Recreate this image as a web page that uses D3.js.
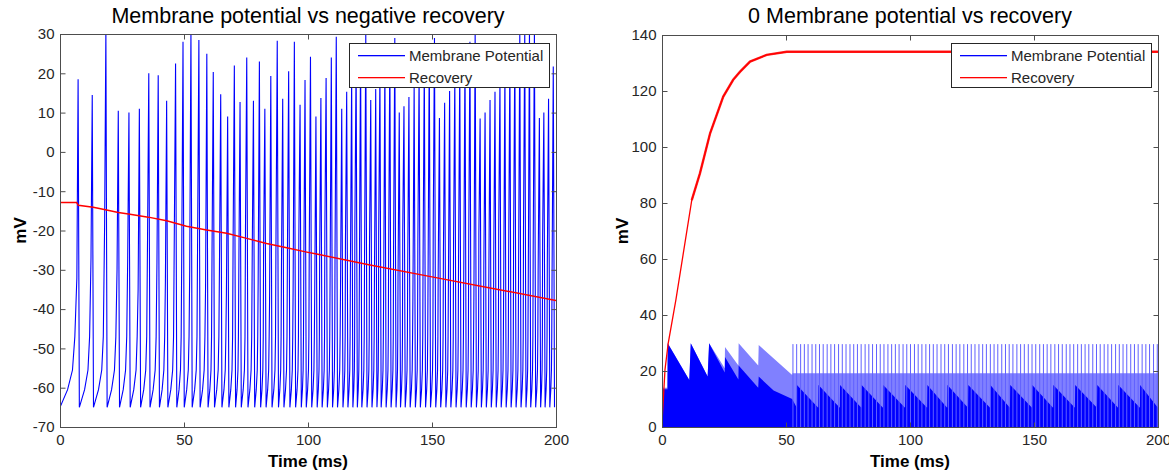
<!DOCTYPE html>
<html>
<head>
<meta charset="utf-8">
<script src="https://cdn.jsdelivr.net/npm/d3@7"></script>
<style>
  body { margin: 0; background: #fff; }
  text { font-family: "Liberation Sans", Arial, sans-serif; }
</style>
</head>
<body>
<svg id="chart" width="1169" height="472"></svg>
<script>
// ---- left panel: spiking membrane potential and negative recovery ----
var leftSpikeT = [7.3, 13.0, 18.5, 23.5, 27.8, 32.0, 35.8, 39.6, 43.0, 46.6, 49.6, 52.8, 56.0, 59.2, 61.8,
  64.8, 67.6, 70.3, 72.6, 75.3, 78.0, 80.4, 82.6, 85.0, 87.6, 89.8, 92.2, 94.5, 96.8, 98.8, 101.0, 103.2,
  105.2, 107.3, 109.4, 111.4, 113.6, 115.6, 117.6, 119.4, 121.2, 123.3, 125.3, 127.3, 129.0, 131.0, 133.0,
  135.0, 136.8, 138.7, 140.7, 142.8, 144.8, 146.9, 148.9, 151.0, 153.0, 155.1, 157.1, 159.2, 161.2, 163.3,
  165.3, 167.4, 169.4, 171.4, 173.4, 175.4, 177.4, 179.4, 181.4, 183.4, 185.4, 187.4, 189.3, 191.3, 193.3,
  195.1, 197.0, 198.9];
var leftSpikePeak = [18.5, 14.5, 31, 10.5, 10, 11, 20, 19.5, 13, 22.5, 28, 31, 28.5, 25, 20.3,
  14.7, 9, 22, 12.7, 24, 13, 23, 11, 19.3, 28.3, 13.5, 20.5, 28, 12, 18.3, 24.2, 9,
  13.7, 18.8, 24, 29.3, 11, 15.3, 19, 23, 27, 30, 13.2, 16, 20, 23, 26,
  29, 10, 11.6, 14, 17, 20, 23, 26, 29, 8.6, 12.5, 15.5, 19, 22, 25,
  28, 31, 8.5, 10, 13.2, 15.3, 18, 21, 24, 27, 30, 31, 31, 31, 8.6,
  10, 13.5, 21.7];
// last sampled voltage before each upstroke
var leftPreV = [-32, -27, -18, -30, -27, -35, -22, -28, -33, -20, -25, -30, -21, -34, -26,
  -29, -36, -23, -31, -19, -27, -33, -24, -38, -21, -29, -26, -35, -22, -30, -25, -37,
  -28, -20, -33, -26, -36, -23, -30, -19, -34, -27, -24, -31, -21, -35, -28,
  -25, -32, -20, -29, -37, -23, -27, -33, -19, -30, -26, -35, -22, -28, -31,
  -24, -36, -21, -29, -33, -26, -20, -34, -27, -23, -31, -19, -35, -25, -30,
  -22, -28, -33];
var isiFrac = [0, 0.45, 0.74, 0.88];
var isiV = [-65, -60.5, -55.5, -47];
var leftRecT = [0, 6.7, 7.4, 13.4, 18.8, 23.5, 27.6, 35.6, 43, 51, 59.1, 67.2, 75.3, 83.3, 91.4, 99.5, 103.5, 125, 150, 175, 200];
var leftRecV = [-12.9, -12.9, -13.6, -14.1, -14.8, -15.4, -15.8, -16.6, -17.5, -18.9, -19.9, -20.7, -22, -23.3, -24.4, -25.5, -26, -28.8, -31.8, -34.8, -37.8];

// ---- right panel ----
var rightRecT = [0, 0.1, 1.2, 2.5, 5.6, 12, 15.3, 19.4, 24.7, 28.7, 31.5, 35.5, 42.2, 50.3, 200];
var rightRecV = [0, 3.1, 20.4, 29.9, 45.4, 81, 90.6, 104.9, 118, 124, 126.9, 130.5, 132.9, 134, 134];
var rightLightT = [0, 2.2, 2.3, 11.0, 11.6, 18.4, 19.0, 25.3, 25.4, 30.8, 30.9, 38.8, 39.0, 52.5, 52.6, 200];
var rightLightV = [14, 14, 29.9, 16.8, 29.9, 18, 29.9, 21, 28.6, 22, 29.9, 22, 29.3, 18.6, 19.2, 19.2];
var rightDarkT = [0, 2.2, 2.3, 11.0, 11.6, 18.4, 19.0, 25.3, 25.4, 30.8, 30.9, 38.8, 39.0, 45, 52.5];
var rightDarkV = [13.5, 13.5, 29.9, 16.8, 29.9, 18, 29.9, 19.5, 25, 17, 22, 14, 18, 13, 10];
var rightToothT = [54.3, 63, 71.7, 80.4, 89.1, 98, 106.9, 115, 123.4, 132.3, 140.3, 149.2, 157.7, 166.5, 175.4, 183.9, 192.7];
var toothHigh = 15, toothLow = 7;
var rightSpikeT = [52.8, 54.3, 55.9, 57.4, 58.9, 60.5, 62.0, 63.5, 65.0, 66.6, 68.1, 69.6, 71.2, 72.7, 74.2,
  75.8, 77.3, 78.8, 80.3, 81.9, 83.4, 84.9, 86.5, 88.0, 89.5, 91.1, 92.6, 94.1, 95.6, 97.2, 98.7, 100.2,
  101.8, 103.3, 104.8, 106.4, 107.9, 109.4, 110.9, 112.5, 114.0, 115.5, 117.1, 118.6, 120.1, 121.7, 123.2,
  124.7, 126.2, 127.8, 129.3, 130.8, 132.4, 133.9, 135.4, 137.0, 138.5, 140.0, 141.5, 143.1, 144.6, 146.1,
  147.7, 149.2, 150.7, 152.3, 153.8, 155.3, 156.8, 158.4, 159.9, 161.4, 163.0, 164.5, 166.0, 167.6, 169.1,
  170.6, 172.1, 173.7, 175.2, 176.7, 178.3, 179.8, 181.3, 182.9, 184.4, 185.9, 187.4, 189.0, 190.5, 192.0,
  193.6, 195.1, 196.6, 198.2, 199.7];
var rightSpikePeak = 29.6;

var xTicks = [0, 50, 100, 150, 200];
var leftYTicks = [-70, -60, -50, -40, -30, -20, -10, 0, 10, 20, 30];
var rightYTicks = [0, 20, 40, 60, 80, 100, 120, 140];
var legendNames = ["Membrane Potential", "Recovery"];
var legendColors = ["#0000ff", "#ff0000"];

var svg = d3.select("#chart");
var BLUE = "#0000ff", RED = "#ff0000", AXIS = "#4d4d4d";
var dt = 0.5;

function panel(opt) {
  var x = d3.scaleLinear().domain([0, 200]).range([opt.left, opt.right]);
  var y = d3.scaleLinear().domain(opt.yDomain).range([opt.bottom, opt.top]);
  var g = svg.append("g");
  g.append("clipPath").attr("id", opt.id + "clip").append("rect")
    .attr("x", opt.left).attr("y", opt.top)
    .attr("width", opt.right - opt.left).attr("height", opt.bottom - opt.top);
  var plot = g.append("g").attr("clip-path", "url(#" + opt.id + "clip)");
  opt.draw(plot, x, y);

  // box with inward ticks
  g.append("rect").attr("x", opt.left + 0.5).attr("y", opt.top + 0.5)
    .attr("width", opt.right - opt.left).attr("height", opt.bottom - opt.top)
    .attr("fill", "none").attr("stroke", AXIS);
  var ax = [
    [d3.axisBottom(x).tickValues(xTicks).tickSize(-5).tickPadding(7), "translate(0," + (opt.bottom + 0.5) + ")"],
    [d3.axisTop(x).tickValues(xTicks).tickSize(-5).tickFormat(""), "translate(0," + (opt.top + 0.5) + ")"],
    [d3.axisLeft(y).tickValues(opt.yTicks).tickSize(-5).tickPadding(6), "translate(" + (opt.left + 0.5) + ",0)"],
    [d3.axisRight(y).tickValues(opt.yTicks).tickSize(-5).tickFormat(""), "translate(" + (opt.right + 0.5) + ",0)"]
  ];
  ax.forEach(function (a, k) {
    if (k % 2 === 0) a[0].tickFormat(function (d) { return String(d); });
    var ag = g.append("g").attr("transform", a[1]).call(a[0]);
    ag.select(".domain").remove();
    ag.selectAll("line").attr("stroke", AXIS);
    ag.selectAll("text").attr("fill", "#262626").style("font-size", "15px")
      .style("font-family", "Liberation Sans, Arial, sans-serif");
  });

  g.append("text").attr("x", (opt.left + opt.right) / 2).attr("y", 23)
    .attr("text-anchor", "middle").style("font-size", "21.5px").attr("fill", "#000")
    .text(opt.title);
  g.append("text").attr("x", (opt.left + opt.right) / 2).attr("y", 467)
    .attr("text-anchor", "middle").style("font-size", "17px").style("font-weight", "bold")
    .text("Time (ms)");
  g.append("text").attr("transform", "translate(" + (opt.left - 34) + "," + ((opt.top + opt.bottom) / 2) + ") rotate(-90)")
    .attr("text-anchor", "middle").style("font-size", "17px").style("font-weight", "bold")
    .text("mV");

  // legend
  var lg = g.append("g").attr("transform", "translate(" + opt.legX + "," + opt.legY + ")");
  lg.append("rect").attr("x", 0.5).attr("y", 0.5).attr("width", 200).attr("height", 44)
    .style("fill", "#fff").style("stroke", "#262626");
  legendNames.forEach(function (n, i) {
    var yy = 12 + i * 22;
    lg.append("rect").attr("x", 9).attr("y", yy).attr("width", 47).attr("height", 1.3)
      .style("fill", legendColors[i]);
    lg.append("text").attr("x", 60).attr("y", yy + 5.5).style("font-size", "15px")
      .style("fill", "#262626").text(n);
  });
}

// left panel
panel({
  id: "l", left: 60, right: 556, top: 34, bottom: 427, yDomain: [-70, 30], yTicks: leftYTicks,
  title: "Membrane potential vs negative recovery", legX: 349, legY: 43,
  draw: function (plot, x, y) {
    var pts = [];
    var start = 0;
    leftSpikeT.forEach(function (t, i) {
      var end = t - dt;
      isiFrac.forEach(function (f, k) {
        pts.push([start + f * (end - start), isiV[k]]);
      });
      pts.push([end, leftPreV[i]]);
      pts.push([t, leftSpikePeak[i]]);
      pts.push([t + dt, -65]);
      start = t + dt;
    });
    var line = d3.line().x(function (d) { return x(d[0]); }).y(function (d) { return y(d[1]); });
    plot.append("path").attr("d", line(pts)).attr("fill", "none")
      .attr("stroke", BLUE).attr("stroke-width", 1.1);
    var rec = leftRecT.map(function (t, i) { return [t, leftRecV[i]]; });
    plot.append("path").attr("d", line(rec)).attr("fill", "none")
      .attr("stroke", RED).attr("stroke-width", 1.5);
  }
});

// right panel
panel({
  id: "r", left: 662, right: 1158, top: 35, bottom: 427, yDomain: [0, 140], yTicks: rightYTicks,
  title: "0 Membrane potential vs recovery", legX: 951, legY: 43,
  draw: function (plot, x, y) {
    var area = d3.area().x(function (d) { return x(d[0]); }).y0(y(0)).y1(function (d) { return y(d[1]); });
    var light = rightLightT.map(function (t, i) { return [t, rightLightV[i]]; });
    plot.append("path").attr("d", area(light)).attr("fill", "#8080ff");
    var dark = rightDarkT.map(function (t, i) { return [t, rightDarkV[i]]; });
    rightToothT.forEach(function (t, i) {
      var next = i + 1 < rightToothT.length ? rightToothT[i + 1] : 200;
      dark.push([t, toothLow], [t + 0.1, toothHigh], [next - 0.1, toothLow]);
    });
    plot.append("path").attr("d", area(dark)).attr("fill", BLUE);
    plot.selectAll("line.sp").data(rightSpikeT).enter().append("line")
      .attr("x1", function (d) { return x(d); }).attr("x2", function (d) { return x(d); })
      .attr("y1", y(0)).attr("y2", y(rightSpikePeak))
      .attr("stroke", "#6060ff").attr("stroke-width", 1);
    var line = d3.line().x(function (d) { return x(d[0]); }).y(function (d) { return y(d[1]); });
    var rec = rightRecT.map(function (t, i) { return [t, rightRecV[i]]; });
    plot.append("path").attr("d", line(rec)).attr("fill", "none")
      .attr("stroke", RED).attr("stroke-width", 1.3);
    // from about 12 ms on the recovery trace jitters, so it is drawn thicker
    var plateau = rec.filter(function (d) { return d[0] >= 12; });
    plot.append("path").attr("d", line(plateau)).attr("fill", "none")
      .attr("stroke", RED).attr("stroke-width", 2.4).attr("stroke-opacity", 0.85);
  }
});
</script>
</body>
</html>
